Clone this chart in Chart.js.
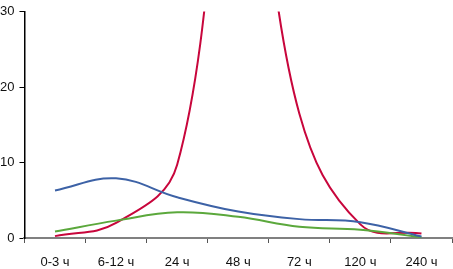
<!DOCTYPE html>
<html>
<head>
<meta charset="utf-8">
<script src="https://cdn.jsdelivr.net/npm/chart.js@4"></script>
<style>
html,body{margin:0;padding:0;background:#fff;overflow:hidden;width:453px;height:269px;}
#wrap{width:458px;height:282px;position:absolute;left:-5px;top:0;}
</style>
</head>
<body>
<div id="wrap"><canvas id="c"></canvas></div>
<script>
const categories = ["0-3 ч", "6-12 ч", "24 ч", "48 ч", "72 ч", "120 ч", "240 ч"];
const blueValues = [6.3, 7.9, 5.4, 3.5, 2.5, 2.1, 0.2];
const greenValues = [0.85, 2.3, 3.4, 2.8, 1.5, 1.1, 0.1];
const redValues = [0.25, 2.0, 9.7, 60, 16.5, 1.8, 0.6];
const yTicks = [0, 10, 20, 30];

const FONT = "'Liberation Sans', Arial, sans-serif";

new Chart(document.getElementById('c'), {
  type: 'line',
  data: {
    labels: categories,
    datasets: [
      {data: blueValues, borderColor: '#3d62a6', borderWidth: 2, pointRadius: 0, tension: 0.4, fill: false},
      {data: greenValues, borderColor: '#5ba83c', borderWidth: 2, pointRadius: 0, tension: 0.4, fill: false},
      {data: redValues, borderColor: '#c8063c', borderWidth: 2, pointRadius: 0, tension: 0.4, fill: false}
    ]
  },
  options: {
    responsive: true,
    maintainAspectRatio: false,
    animation: false,
    devicePixelRatio: 1,
    elements: {line: {capBezierPoints: false}},
    layout: {padding: {top: 5, right: 1, left: 0, bottom: 0}},
    plugins: {legend: {display: false}, tooltip: {enabled: false}},
    scales: {
      x: {
        offset: true,
        grid: {offset: true, drawOnChartArea: false, drawTicks: true, tickLength: 5, color: '#555'},
        border: {display: true, color: '#808080', width: 2},
        ticks: {color: '#111', padding: 13, font: {family: FONT, size: 13, lineHeight: 1}}
      },
      y: {
        min: 0, max: 30,
        afterBuildTicks: (axis) => { axis.ticks = yTicks.map(v => ({value: v})); },
        grid: {drawOnChartArea: false, drawTicks: true, tickLength: 5, color: '#000'},
        border: {display: true, color: '#000', width: 1.5},
        ticks: {color: '#111', padding: 5, font: {family: FONT, size: 13, lineHeight: 1}}
      }
    }
  }
});
</script>
</body>
</html>
